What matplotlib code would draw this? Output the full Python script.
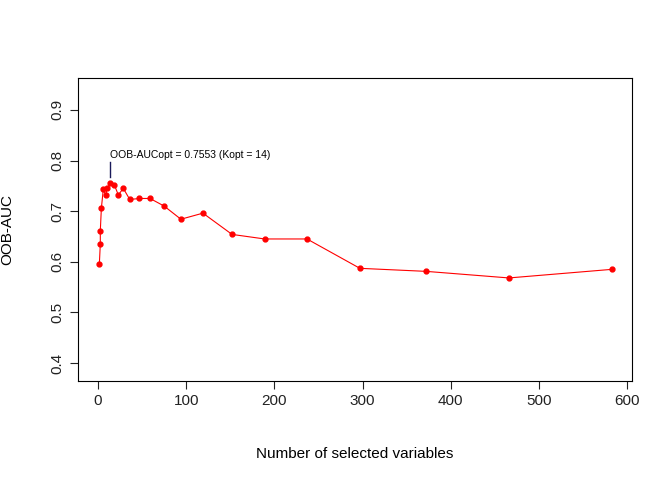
import matplotlib
matplotlib.use("Agg")
import matplotlib.pyplot as plt

nvars = [1.5, 2.6, 2.6, 3.8, 6, 8.7, 10.6, 14, 18.5, 23, 28.7, 36, 47, 59, 75, 94, 119, 152, 189, 237, 297, 372, 466, 583]
auc = [0.595, 0.635, 0.661, 0.706, 0.743, 0.732, 0.745, 0.7553, 0.752, 0.732, 0.745, 0.723, 0.725, 0.725, 0.71, 0.684, 0.696, 0.654, 0.645, 0.645, 0.587, 0.581, 0.568, 0.585]
kopt, aucopt = 14, 0.7553

plt.rcParams['font.family'] = ['Liberation Sans', 'DejaVu Sans']
fig = plt.figure(figsize=(6.72, 4.8), dpi=100)
ax = fig.add_axes([78/672, 1-381/480, (632-78)/672, (381-78)/480])
ax.plot(nvars, auc, color='red', lw=0.8, marker='o', ms=3.5)
ax.set_xlim(-22.7, 605.6)
ax.set_ylim(0.3644, 0.963)
ax.set_xticks([0, 100, 200, 300, 400, 500, 600])
ax.set_yticks([0.4, 0.5, 0.6, 0.7, 0.8, 0.9])
for lab in ax.get_yticklabels():
    lab.set_rotation(90); lab.set_va('center')
ax.tick_params(labelsize=11, colors='#222222', length=6)
ax.set_xlabel('Number of selected variables', fontsize=11, labelpad=28)
ax.set_ylabel('OOB-AUC', fontsize=11, labelpad=26)
ax.plot([kopt, kopt], [aucopt + 0.012, aucopt + 0.042], color='#1a1a5a', lw=1)
ax.text(kopt, aucopt + 0.046, 'OOB-AUCopt = %.4f (Kopt = %d)' % (aucopt, kopt), fontsize=7.5, ha='left', va='bottom')
fig.savefig('out.png', dpi=100)
